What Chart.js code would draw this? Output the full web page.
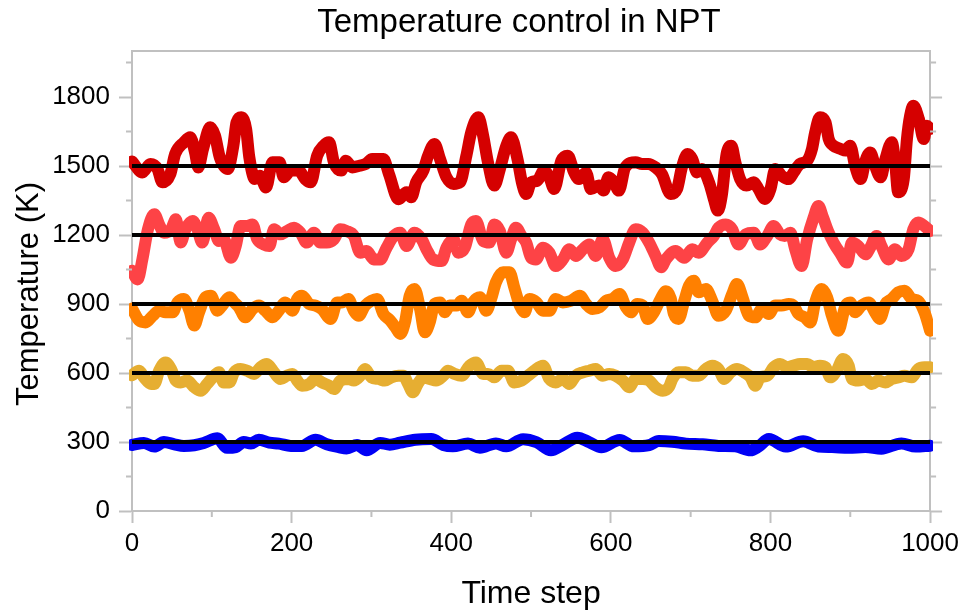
<!DOCTYPE html>
<html>
<head>
<meta charset="utf-8">
<title>Temperature control in NPT</title>
<script src="https://cdn.jsdelivr.net/npm/chart.js@4.4.1/dist/chart.umd.min.js"></script>
<style>
  html, body { margin: 0; padding: 0; background: #fff; }
  #wrap { width: 964px; height: 610px; }
</style>
</head>
<body>
<div id="wrap"><canvas id="chart" width="964" height="610"></canvas></div>
<script>
// target temperatures (black reference lines)
const targets = [300, 600, 900, 1200, 1500];

// 1500 K run
const stepsRed = [0, 13, 23, 32, 38, 48, 54, 65, 73, 79, 83, 89, 98, 104, 110, 120, 127, 131, 137, 143, 147, 154, 160, 168, 176, 185, 190, 199, 209, 217, 224, 232, 240, 247, 253, 262, 268, 276, 285, 293, 301, 307, 315, 322, 334, 344, 350, 356, 365, 371, 379, 386, 394, 403, 411, 419, 425, 434, 440, 446, 454, 461, 469, 475, 483, 489, 494, 500, 508, 516, 523, 529, 538, 546, 554, 560, 569, 575, 585, 591, 597, 604, 610, 618, 631, 639, 647, 656, 664, 675, 683, 689, 696, 702, 708, 714, 723, 729, 734, 739, 745, 751, 756, 762, 770, 779, 785, 793, 800, 806, 814, 823, 829, 837, 846, 852, 856, 862, 869, 873, 879, 888, 894, 900, 906, 913, 919, 925, 931, 938, 944, 952, 956, 960, 967, 971, 975, 979, 986, 992, 996, 1000];
const tempRed = [1520, 1472, 1509, 1487, 1429, 1465, 1552, 1603, 1625, 1559, 1494, 1574, 1668, 1632, 1538, 1487, 1588, 1690, 1712, 1661, 1538, 1443, 1458, 1407, 1516, 1516, 1451, 1480, 1480, 1443, 1429, 1545, 1588, 1603, 1516, 1480, 1523, 1494, 1501, 1509, 1530, 1530, 1530, 1465, 1355, 1386, 1364, 1429, 1480, 1545, 1596, 1530, 1451, 1422, 1429, 1545, 1646, 1712, 1632, 1516, 1415, 1487, 1588, 1625, 1530, 1422, 1378, 1429, 1436, 1480, 1451, 1400, 1523, 1545, 1472, 1443, 1472, 1400, 1415, 1393, 1451, 1429, 1393, 1494, 1516, 1509, 1509, 1494, 1465, 1378, 1400, 1494, 1552, 1530, 1472, 1487, 1429, 1357, 1306, 1371, 1552, 1588, 1516, 1443, 1415, 1429, 1400, 1357, 1400, 1487, 1458, 1443, 1472, 1509, 1523, 1574, 1646, 1712, 1690, 1617, 1588, 1574, 1567, 1588, 1501, 1443, 1523, 1559, 1501, 1451, 1530, 1603, 1523, 1386, 1443, 1617, 1719, 1762, 1704, 1617, 1675, 1661];

// 1200 K run
const stepsSalmon = [0, 7, 13, 20, 28, 34, 40, 49, 55, 61, 67, 76, 82, 88, 96, 103, 109, 115, 124, 130, 136, 144, 151, 157, 165, 172, 178, 186, 194, 203, 211, 219, 228, 236, 244, 253, 261, 269, 278, 286, 294, 303, 311, 319, 328, 336, 344, 354, 363, 369, 377, 388, 394, 403, 409, 417, 425, 431, 440, 448, 454, 461, 469, 475, 481, 488, 494, 500, 506, 515, 523, 531, 540, 548, 556, 565, 573, 581, 590, 598, 606, 615, 623, 631, 640, 648, 656, 663, 669, 681, 692, 702, 710, 721, 729, 735, 744, 752, 760, 769, 779, 787, 796, 804, 812, 818, 825, 831, 839, 846, 854, 860, 866, 873, 879, 887, 896, 902, 910, 919, 925, 933, 939, 948, 956, 964, 973, 979, 985, 993, 1000];
const tempSalmon = [1045, 1007, 1094, 1225, 1290, 1246, 1210, 1225, 1268, 1167, 1225, 1261, 1225, 1167, 1275, 1225, 1174, 1181, 1101, 1152, 1239, 1239, 1246, 1181, 1159, 1152, 1225, 1203, 1217, 1232, 1210, 1167, 1210, 1167, 1167, 1181, 1225, 1217, 1196, 1123, 1130, 1094, 1094, 1145, 1196, 1210, 1152, 1210, 1181, 1138, 1094, 1087, 1145, 1181, 1123, 1145, 1246, 1261, 1174, 1167, 1246, 1217, 1123, 1181, 1232, 1196, 1167, 1101, 1094, 1145, 1123, 1065, 1094, 1138, 1109, 1138, 1159, 1109, 1181, 1101, 1065, 1094, 1167, 1225, 1210, 1167, 1109, 1060, 1094, 1130, 1101, 1138, 1123, 1167, 1196, 1232, 1246, 1225, 1159, 1203, 1210, 1159, 1196, 1239, 1203, 1196, 1210, 1138, 1065, 1181, 1275, 1326, 1275, 1210, 1167, 1123, 1080, 1167, 1152, 1116, 1145, 1196, 1152, 1094, 1138, 1109, 1138, 1225, 1254, 1239, 1217];

// 900 K run
const stepsOrange = [0, 9, 17, 26, 34, 42, 51, 57, 65, 72, 78, 84, 92, 99, 107, 113, 122, 128, 134, 142, 151, 159, 167, 176, 184, 192, 201, 207, 213, 222, 230, 238, 249, 257, 263, 271, 278, 284, 292, 300, 307, 315, 323, 330, 336, 342, 348, 354, 361, 367, 373, 379, 386, 392, 398, 407, 413, 421, 427, 436, 444, 450, 456, 465, 473, 479, 486, 492, 498, 507, 515, 523, 531, 540, 550, 561, 569, 577, 586, 594, 602, 611, 619, 625, 633, 640, 646, 654, 662, 669, 675, 679, 685, 692, 698, 704, 710, 719, 727, 735, 744, 752, 758, 765, 773, 781, 789, 798, 806, 814, 823, 829, 835, 843, 850, 856, 864, 871, 877, 885, 894, 900, 906, 914, 923, 931, 937, 944, 952, 960, 968, 977, 985, 993, 1000];
const tempOrange = [880, 828, 820, 849, 871, 864, 864, 907, 922, 871, 806, 864, 929, 936, 871, 893, 929, 907, 886, 842, 878, 893, 871, 842, 871, 907, 871, 922, 936, 900, 893, 878, 835, 907, 907, 922, 871, 849, 893, 914, 922, 857, 830, 799, 770, 820, 936, 965, 878, 777, 820, 900, 907, 864, 893, 893, 914, 864, 907, 929, 871, 922, 994, 1038, 1038, 972, 893, 864, 922, 907, 871, 871, 922, 907, 914, 936, 900, 878, 886, 914, 922, 943, 886, 864, 900, 893, 835, 864, 920, 955, 925, 857, 835, 914, 980, 1001, 951, 965, 914, 849, 871, 943, 987, 929, 849, 842, 878, 857, 893, 893, 900, 893, 857, 842, 820, 907, 965, 929, 849, 784, 893, 907, 864, 893, 907, 864, 835, 900, 922, 951, 958, 922, 914, 864, 784];

// 600 K run
const stepsYellow = [0, 9, 15, 24, 28, 34, 42, 49, 55, 61, 69, 78, 86, 94, 103, 109, 115, 122, 128, 136, 144, 153, 161, 169, 178, 186, 194, 201, 207, 213, 222, 230, 238, 247, 253, 261, 271, 278, 286, 292, 300, 309, 317, 325, 334, 340, 346, 352, 358, 365, 373, 381, 390, 396, 404, 413, 423, 431, 440, 446, 454, 463, 471, 479, 488, 496, 504, 515, 523, 531, 540, 548, 556, 565, 573, 581, 590, 598, 606, 615, 623, 631, 640, 648, 656, 665, 673, 677, 685, 694, 702, 710, 719, 727, 735, 742, 750, 758, 767, 775, 781, 787, 796, 804, 812, 821, 829, 837, 846, 854, 862, 869, 875, 883, 891, 898, 902, 910, 919, 927, 935, 944, 952, 960, 968, 977, 985, 993, 1000];
const tempYellow = [590, 610, 581, 552, 552, 610, 646, 617, 567, 559, 567, 538, 523, 552, 588, 603, 559, 559, 603, 617, 610, 596, 625, 639, 603, 574, 588, 596, 567, 545, 552, 574, 559, 545, 530, 567, 574, 567, 588, 617, 581, 574, 567, 581, 588, 588, 552, 516, 552, 581, 574, 567, 588, 610, 596, 588, 632, 646, 596, 596, 581, 610, 610, 559, 567, 588, 610, 632, 574, 559, 574, 552, 588, 603, 610, 617, 588, 596, 588, 567, 538, 574, 574, 567, 538, 523, 540, 574, 603, 603, 588, 588, 617, 632, 617, 574, 603, 617, 603, 581, 545, 581, 588, 625, 639, 625, 632, 639, 639, 625, 632, 625, 581, 610, 661, 632, 574, 567, 574, 552, 567, 559, 574, 581, 588, 581, 617, 625, 625];

// 300 K run
const stepsBlue = [0, 15, 28, 40, 53, 65, 78, 90, 107, 119, 130, 140, 149, 159, 172, 184, 199, 213, 230, 244, 259, 269, 282, 294, 311, 323, 336, 355, 375, 390, 402, 421, 436, 456, 469, 490, 507, 525, 540, 558, 573, 588, 611, 629, 648, 660, 677, 694, 715, 735, 756, 775, 785, 798, 819, 841, 860, 877, 898, 919, 939, 964, 982, 1000];
const tempBlue = [287, 296, 280, 300, 290, 283, 286, 296, 316, 275, 278, 300, 293, 310, 297, 293, 283, 283, 310, 290, 278, 272, 287, 264, 296, 288, 297, 310, 313, 287, 281, 293, 275, 294, 281, 312, 299, 264, 288, 319, 299, 277, 309, 281, 286, 304, 301, 293, 290, 283, 281, 264, 280, 313, 280, 303, 280, 278, 275, 278, 271, 294, 280, 284];

const xTicks = [0, 200, 400, 600, 800, 1000];
const yTicks = [0, 300, 600, 900, 1200, 1500, 1800];

const axisGray = "#c0c0c0";
const fontFamily = "'Liberation Sans', Arial, sans-serif";

function toPoints(steps, temps) {
  return steps.map((s, i) => ({ x: s, y: temps[i] }));
}

function seriesSet(steps, temps, color, width) {
  return {
    data: toPoints(steps, temps),
    borderColor: color,
    backgroundColor: color,
    borderWidth: width,
    borderCapStyle: "round",
    borderJoinStyle: "round",
    pointRadius: 0,
    cubicInterpolationMode: "monotone",
    clip: 3,
    order: 1
  };
}

const datasets = [
  ...targets.map(t => ({
    data: [{ x: 0, y: t }, { x: 1000, y: t }],
    borderColor: "#000",
    borderWidth: 4,
    pointRadius: 0,
    order: 0
  })),
  seriesSet(stepsRed, tempRed, "#d50000", 12),
  seriesSet(stepsSalmon, tempSalmon, "#fd4346", 12),
  seriesSet(stepsOrange, tempOrange, "#ff8000", 12),
  seriesSet(stepsYellow, tempYellow, "#e6ae32", 12),
  seriesSet(stepsBlue, tempBlue, "#0000f5", 12)
];

// short minor ticks + chart title + y title
const extras = {
  id: "extras",
  afterDraw(chart) {
    const ctx = chart.ctx;
    const { x, y, yr } = chart.scales;
    ctx.save();
    ctx.strokeStyle = axisGray;
    ctx.lineWidth = 2;
    ctx.beginPath();
    x.ticks.forEach(t => {
      if (!xTicks.includes(t.value)) {
        const px = x.getPixelForValue(t.value);
        ctx.moveTo(px, x.top);
        ctx.lineTo(px, x.top + 6);
      }
    });
    y.ticks.forEach(t => {
      if (!yTicks.includes(t.value)) {
        const py = y.getPixelForValue(t.value);
        ctx.moveTo(y.right - 6, py);
        ctx.lineTo(y.right, py);
        ctx.moveTo(yr.left, py);
        ctx.lineTo(yr.left + 6, py);
      }
    });
    ctx.stroke();

    ctx.fillStyle = "#000";
    ctx.textAlign = "center";
    ctx.font = "33px " + fontFamily;
    ctx.textBaseline = "alphabetic";
    ctx.fillText("Temperature control in NPT", 519, 32);

    ctx.translate(29, 294);
    ctx.rotate(-Math.PI / 2);
    ctx.font = "31px " + fontFamily;
    ctx.textBaseline = "middle";
    ctx.fillText("Temperature (K)", 0, 0);
    ctx.restore();
  }
};

const tickColor = major => c => (major.includes(c.tick && c.tick.value) ? axisGray : "rgba(0,0,0,0)");

new Chart(document.getElementById("chart"), {
  type: "line",
  data: { datasets },
  options: {
    responsive: false,
    animation: false,
    parsing: false,
    layout: { padding: 0 },
    plugins: { legend: { display: false }, tooltip: { enabled: false } },
    scales: {
      x: {
        type: "linear",
        position: "bottom",
        min: 0,
        max: 1000,
        ticks: {
          stepSize: 100,
          autoSkip: false,
          maxRotation: 0,
          padding: 5,
          color: "#000",
          font: { family: fontFamily, size: 26 },
          callback: v => (xTicks.includes(v) ? v : "")
        },
        grid: { drawOnChartArea: false, tickLength: 12, tickWidth: 2, tickColor: tickColor(xTicks) },
        border: { color: axisGray, width: 2 },
        title: {
          display: true,
          text: "Time step",
          color: "#000",
          padding: { top: 0, bottom: 0 },
          font: { family: fontFamily, size: 32, lineHeight: 1 }
        },
        afterFit: s => { s.height = 99; }
      },
      xt: {
        type: "linear",
        position: "top",
        min: 0,
        max: 1000,
        ticks: { display: false },
        grid: { display: false },
        border: { color: axisGray, width: 2 },
        afterFit: s => { s.height = 51; }
      },
      y: {
        type: "linear",
        position: "left",
        min: 0,
        max: 2000,
        ticks: {
          stepSize: 150,
          includeBounds: false,
          autoSkip: false,
          padding: 9,
          color: "#000",
          font: { family: fontFamily, size: 26 },
          callback: v => (yTicks.includes(v) ? v : "")
        },
        grid: { drawOnChartArea: false, tickLength: 13, tickWidth: 2, tickColor: tickColor(yTicks) },
        border: { color: axisGray, width: 2 },
        afterFit: s => { s.width = 132; }
      },
      yr: {
        type: "linear",
        position: "right",
        min: 0,
        max: 2000,
        ticks: { display: false, stepSize: 150, includeBounds: false, autoSkip: false },
        grid: { drawOnChartArea: false, tickLength: 12, tickWidth: 2, tickColor: tickColor(yTicks) },
        border: { color: axisGray, width: 2 },
        afterFit: s => { s.width = 32; }
      }
    }
  },
  plugins: [extras]
});
</script>
</body>
</html>
